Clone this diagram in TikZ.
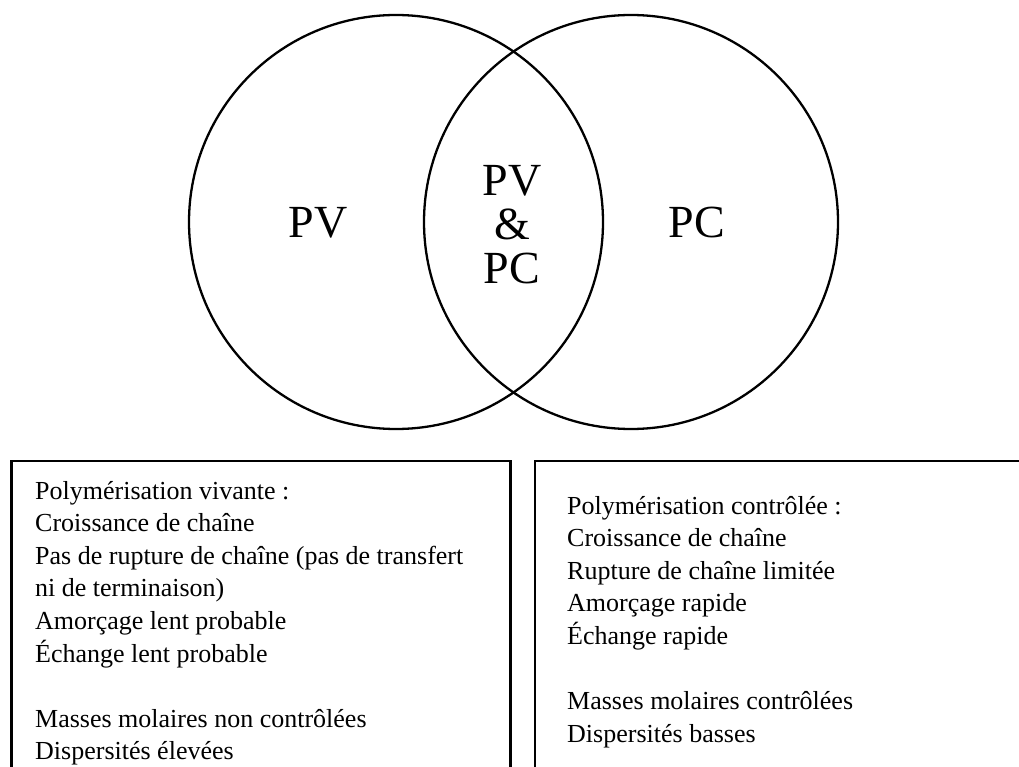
\documentclass[tikz,border=0pt]{standalone}
\usepackage{fontspec}
\setmainfont{Liberation Serif}
\tikzset{
  venn/.style={circle, draw=black, line width=2.3pt, inner sep=0pt, minimum size=414pt},
  bigtxt/.style={inner sep=0pt, font=\fontsize{46}{44}\selectfont},
  boxtxt/.style={inner sep=0pt, anchor=base west, font=\fontsize{26}{32.6}\selectfont},
  infobox/.style={draw=black, line width=2.6pt}
}
\newcommand{\boxlines}[1]{\vtop{\baselineskip=32.6pt\lineskiplimit=-20pt #1}}
\begin{document}
\begin{tikzpicture}[x=1pt,y=1pt]
\useasboundingbox (0,0) rectangle (1019,-767);
\clip (0,0) rectangle (1019,-767);
\fill[white] (0,0) rectangle (1019,-767);
% Venn circles
\node[venn] (cpv) at (396,-222) {};
\node[venn] (cpc) at (631,-222) {};
% labels
\node[bigtxt, anchor=base] (lpv) at (318,-238) {PV};
\node[bigtxt, anchor=base] (lpc) at (697,-238) {PC};
\node[bigtxt, anchor=base] (lmid) at (512,-196)
  {\vtop{\baselineskip=44pt\lineskiplimit=-30pt\halign{\hfil#\hfil\cr PV\cr\&\cr PC\cr}}};
% boxes
\draw[infobox] (11.5,-461) rectangle (510.5,-820);
\draw[infobox] (535,-461) rectangle (1040,-820);
% box texts
\node[boxtxt] (tleft) at (35,-499) {\boxlines{%
  \hbox{Polymérisation vivante :}
  \hbox{Croissance de chaîne}
  \hbox{Pas de rupture de chaîne (pas de transfert}
  \hbox{ni de terminaison)}
  \hbox{Amorçage lent probable}
  \hbox{Échange lent probable}
  \hbox{}
  \hbox{Masses molaires non contrôlées}
  \hbox{Dispersités élevées}}};
\node[boxtxt] (tright) at (567,-514) {\boxlines{%
  \hbox{Polymérisation contrôlée :}
  \hbox{Croissance de chaîne}
  \hbox{Rupture de chaîne limitée}
  \hbox{Amorçage rapide}
  \hbox{Échange rapide}
  \hbox{}
  \hbox{Masses molaires contrôlées}
  \hbox{Dispersités basses}}};
\end{tikzpicture}
\end{document}
